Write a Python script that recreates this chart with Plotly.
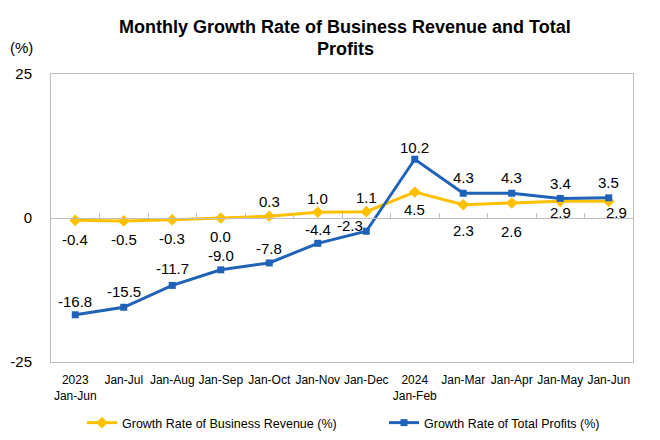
import plotly.graph_objects as go

title_lines = ["Monthly Growth Rate of Business Revenue and Total", "Profits"]
categories = ["2023<br>Jan-Jun", "Jan-Jul", "Jan-Aug", "Jan-Sep", "Jan-Oct", "Jan-Nov",
              "Jan-Dec", "2024<br>Jan-Feb", "Jan-Mar", "Jan-Apr", "Jan-May", "Jan-Jun"]
revenue = [-0.4, -0.5, -0.3, 0.0, 0.3, 1.0, 1.1, 4.5, 2.3, 2.6, 2.9, 2.9]
profits = [-16.8, -15.5, -11.7, -9.0, -7.8, -4.4, -2.3, 10.2, 4.3, 4.3, 3.4, 3.5]
y_ticks = [-25, 0, 25]
y_tick_text = ["-25", "0", "25"]

# label offsets (pixels) - styling only
rev_shift = [-19, -19, -19, -18, 15, 14, 14, -17, -26, -28, -11, -11]
rev_xshift = [0, 0, 0, 0, 0, 0, 0, 0, 0, 0, 0, 8]
pro_shift = [13, 16, 17, 14, 14, 14, 6, 12, 16, 16, 15, 15]
pro_xshift = [0, 0, 0, 0, 0, 0, -16, 0, 0, 0, 0, 0]

GOLD = "#FFC000"
BLUE = "#1F62B8"
GRID = "#BFBFBF"
FONT = "Liberation Sans, Arial, sans-serif"

W, H = 652, 432  # page has an 8px body margin
PL, PT, PW, PH = 51, 74, 582, 288  # plot area in page pixels


def px_x(x):
    return (x - PL) / PW


def px_y(y):
    return (PT + PH - y) / PH


fig = go.Figure()
fig.add_trace(go.Scatter(
    x=categories, y=[None] * len(categories), xaxis="x2", yaxis="y",
    showlegend=False, hoverinfo="skip"))
fig.add_trace(go.Scatter(
    x=categories, y=revenue, mode="lines+markers", name="Growth Rate of Business Revenue (%)",
    line=dict(color=GOLD, width=3), marker=dict(symbol="diamond", size=9, color=GOLD),
    xaxis="x", yaxis="y", legend="legend"))
fig.add_trace(go.Scatter(
    x=categories, y=profits, mode="lines+markers", name="Growth Rate of Total Profits (%)",
    line=dict(color=BLUE, width=3), marker=dict(symbol="square", size=7, color=BLUE),
    xaxis="x", yaxis="y", legend="legend2"))

annotations = []
for i, c in enumerate(categories):
    annotations.append(dict(x=c, y=revenue[i], xref="x", yref="y", text=f"{revenue[i]:.1f}",
                            showarrow=False, yshift=rev_shift[i], xshift=rev_xshift[i],
                            font=dict(family=FONT, size=15, color="#000000")))
    annotations.append(dict(x=c, y=profits[i], xref="x", yref="y", text=f"{profits[i]:.1f}",
                            showarrow=False, yshift=pro_shift[i], xshift=pro_xshift[i],
                            font=dict(family=FONT, size=15, color="#000000")))
annotations.append(dict(x=px_x(21), y=px_y(47), xref="paper", yref="paper",
                        text="(%)", showarrow=False, xanchor="center", yanchor="middle",
                        font=dict(family=FONT, size=15, color="#000000")))
for line, yy in zip(title_lines, [27, 49]):
    annotations.append(dict(x=px_x(345), y=px_y(yy), xref="paper", yref="paper",
                            text=f"<b>{line}</b>", showarrow=False, xanchor="center",
                            yanchor="middle",
                            font=dict(family=FONT, size=18, color="#000000")))

legend_common = dict(orientation="h", xanchor="left", xref="container", yanchor="middle",
                     yref="container", y=(H - 415) / H,
                     font=dict(family=FONT, size=12.5, color="#000000"),
                     bgcolor="rgba(0,0,0,0)")

fig.update_layout(
    template="none",
    width=W, height=H,
    margin=dict(l=PL - 8, r=W + 8 - PL - PW, t=PT - 8, b=H + 8 - PT - PH),
    paper_bgcolor="white", plot_bgcolor="white",
    font=dict(family=FONT, size=14, color="#000000"),
    xaxis=dict(type="category", range=[-0.5, 11.5], showline=True, linecolor=GRID, linewidth=1,
               mirror=True, ticks="", showgrid=False, zeroline=False, automargin=False,
               tickangle=0, ticklabelstandoff=7,
               tickfont=dict(family=FONT, size=12, color="#000000")),
    xaxis2=dict(type="category", range=[-0.5, 11.5], overlaying="x", anchor="free", position=0.5,
                side="bottom", showline=True, linecolor=GRID, linewidth=1, ticks="inside",
                ticklen=5, tickcolor=GRID, tickson="boundaries", showticklabels=False,
                showgrid=False, zeroline=False, automargin=False),
    yaxis=dict(range=[-25, 25], tickvals=y_ticks, ticktext=y_tick_text, showline=True,
               linecolor=GRID, linewidth=1, mirror=True, showgrid=False, zeroline=False,
               ticks="", ticklabelstandoff=15, automargin=False,
               tickfont=dict(family=FONT, size=15, color="#000000")),
    legend=dict(x=74 / W, **legend_common),
    legend2=dict(x=376 / W, **legend_common),
    showlegend=True,
    annotations=annotations,
)
fig.write_html("out.html")
